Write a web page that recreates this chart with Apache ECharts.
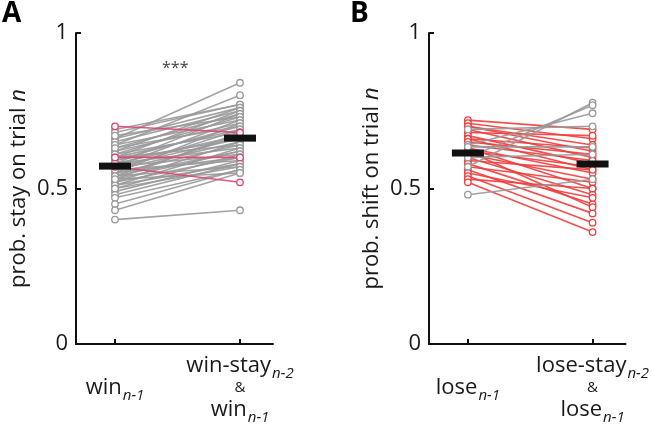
<!DOCTYPE html>
<html>
<head>
<meta charset="utf-8">
<script src="https://cdn.jsdelivr.net/npm/echarts@6/dist/echarts.min.js"></script>
<style>
html, body { margin: 0; padding: 0; background: #fff; }
#chart { width: 652px; height: 435px; }
</style>
</head>
<body>
<div id="chart"></div>
<script>
const FONT = '"Open Sans", sans-serif';

// tick labels (rich text: m = main, s = italic subscript, a = ampersand)
const tickLabelsA = ['{m|win}{s|n-1}', '{m|win-stay}{s|n-2}\n{a|&}\n{m|win}{s|n-1}'];
const tickLabelsB = ['{m|lose}{s|n-1}', '{m|lose-stay}{s|n-2}\n{a|&}\n{m|lose}{s|n-1}'];
const tickPositions = [1, 2];

// panel A: prob. stay, gray subjects
const grayWinA      = [0.66, 0.64, 0.69, 0.68, 0.62, 0.66, 0.60, 0.65, 0.58, 0.63,
                       0.67, 0.61, 0.57, 0.64, 0.55, 0.62, 0.59, 0.63, 0.56, 0.60,
                       0.53, 0.61, 0.58, 0.54, 0.59, 0.57, 0.52, 0.56, 0.60, 0.55,
                       0.51, 0.58, 0.54, 0.53, 0.57, 0.50, 0.55, 0.52, 0.49, 0.56,
                       0.51, 0.48, 0.54, 0.50, 0.47, 0.45, 0.53, 0.43, 0.40];
const grayWinStayA  = [0.84, 0.80, 0.77, 0.77, 0.76, 0.76, 0.75, 0.75, 0.74, 0.74,
                       0.73, 0.73, 0.72, 0.72, 0.71, 0.71, 0.70, 0.70, 0.69, 0.69,
                       0.68, 0.68, 0.67, 0.67, 0.66, 0.66, 0.65, 0.65, 0.64, 0.64,
                       0.63, 0.63, 0.62, 0.62, 0.61, 0.61, 0.60, 0.60, 0.59, 0.59,
                       0.58, 0.58, 0.57, 0.57, 0.56, 0.56, 0.55, 0.55, 0.43];
// panel A: red subjects
const redWinA       = [0.70, 0.60, 0.57];
const redWinStayA   = [0.68, 0.60, 0.52];
const meanA         = [0.572, 0.662];

// panel B: prob. shift, red subjects
const redLoseB      = [0.72, 0.71, 0.70, 0.70, 0.69, 0.68, 0.67, 0.66, 0.66, 0.65,
                       0.64, 0.63, 0.63, 0.62, 0.61, 0.60, 0.59, 0.58, 0.57, 0.56,
                       0.55, 0.54, 0.53, 0.52, 0.62];
const redLoseStayB  = [0.69, 0.66, 0.64, 0.62, 0.60, 0.67, 0.58, 0.56, 0.63, 0.61,
                       0.59, 0.55, 0.50, 0.57, 0.53, 0.48, 0.56, 0.45, 0.52, 0.42,
                       0.47, 0.39, 0.50, 0.36, 0.44];
// panel B: gray subjects
const grayLoseB     = [0.57, 0.60, 0.64, 0.69, 0.634, 0.60, 0.48];
const grayLoseStayB = [0.776, 0.768, 0.742, 0.70, 0.634, 0.61, 0.53];
const meanB         = [0.614, 0.579];

const GRAY = '#999999';
const RED_A = '#e0436f';
const RED_B = '#f23c3c';

var chart = echarts.init(document.getElementById('chart'));

function pairSeries(idx, left, right, color, z) {
    return left.map((l, i) => ({
        type: 'line',
        xAxisIndex: idx,
        yAxisIndex: idx,
        data: [[tickPositions[0], l], [tickPositions[1], right[i]]],
        symbol: 'circle',
        symbolSize: 6.5,
        lineStyle: { color: color, width: 1.6, opacity: 0.9 },
        itemStyle: { color: '#fff', borderColor: color, borderWidth: 1.3 },
        silent: true,
        z: z
    }));
}

function meanSeries(idx, means) {
    return {
        type: 'custom',
        xAxisIndex: idx,
        yAxisIndex: idx,
        data: means.map((m, i) => [tickPositions[i], m]),
        renderItem: (params, api) => {
            const p = api.coord([api.value(0), api.value(1)]);
            return {
                type: 'rect',
                shape: { x: p[0] - 16, y: p[1] - 3.5, width: 32, height: 7 },
                style: { fill: '#111' }
            };
        },
        silent: true,
        z: 10
    };
}

const richLabel = {
    m: { fontSize: 22, fontFamily: FONT, color: '#1a1a1a', lineHeight: 28 },
    s: { fontSize: 15, fontFamily: FONT, fontStyle: 'italic', color: '#1a1a1a', lineHeight: 15, padding: [16, 0, 0, 1] },
    a: { fontSize: 15, fontFamily: FONT, color: '#1a1a1a', lineHeight: 16 }
};

function xAxis(idx, labels) {
    return {
        type: 'value',
        gridIndex: idx,
        min: 0.688,
        max: 2.264,
        axisLine: { show: true, lineStyle: { color: '#111', width: 2 } },
        axisTick: { show: true, inside: true, length: 5, customValues: tickPositions, lineStyle: { color: '#111', width: 2 } },
        axisLabel: {
            customValues: tickPositions,
            formatter: v => labels[Math.round(v) - 1],
            verticalAlign: 'middle',
            margin: 44,
            rich: richLabel
        },
        splitLine: { show: false }
    };
}

function yAxis(idx, word) {
    return {
        type: 'value',
        gridIndex: idx,
        min: 0,
        max: 1,
        interval: 0.5,
        name: '{t|prob. ' + word + ' on trial }{i|n}',
        nameLocation: 'middle',
        nameGap: 46,
        nameTextStyle: {
            rich: {
                t: { fontSize: 22, fontFamily: FONT, color: '#1a1a1a' },
                i: { fontSize: 22, fontFamily: FONT, fontStyle: 'italic', color: '#1a1a1a' }
            }
        },
        axisLine: { show: true, lineStyle: { color: '#111', width: 2 } },
        axisTick: { show: true, inside: true, length: 5, lineStyle: { color: '#111', width: 2 } },
        axisLabel: { fontSize: 22, fontFamily: FONT, color: '#1a1a1a', margin: 8 },
        splitLine: { show: false }
    };
}

chart.setOption({
    backgroundColor: '#fff',
    animation: false,
    grid: [
        { left: 76, top: 33, width: 197, height: 311 },
        { left: 429, top: 33, width: 197, height: 311 }
    ],
    xAxis: [xAxis(0, tickLabelsA), xAxis(1, tickLabelsB)],
    yAxis: [yAxis(0, 'stay'), yAxis(1, 'shift')],
    graphic: [
        { type: 'text', left: 2, top: 0, style: { text: 'A', fontSize: 28, fontWeight: 'bold', fontFamily: FONT, fill: '#000' } },
        { type: 'text', left: 350, top: 0, style: { text: 'B', fontSize: 28, fontWeight: 'bold', fontFamily: FONT, fill: '#000' } },
        { type: 'text', left: 162, top: 60, style: { text: '***', fontSize: 16, fontFamily: FONT, fill: '#444' } }
    ],
    series: [
        ...pairSeries(0, grayWinA, grayWinStayA, GRAY, 2),
        ...pairSeries(0, redWinA, redWinStayA, RED_A, 3),
        meanSeries(0, meanA),
        ...pairSeries(1, redLoseB, redLoseStayB, RED_B, 2),
        ...pairSeries(1, grayLoseB, grayLoseStayB, GRAY, 3),
        meanSeries(1, meanB)
    ]
});
</script>
</body>
</html>
